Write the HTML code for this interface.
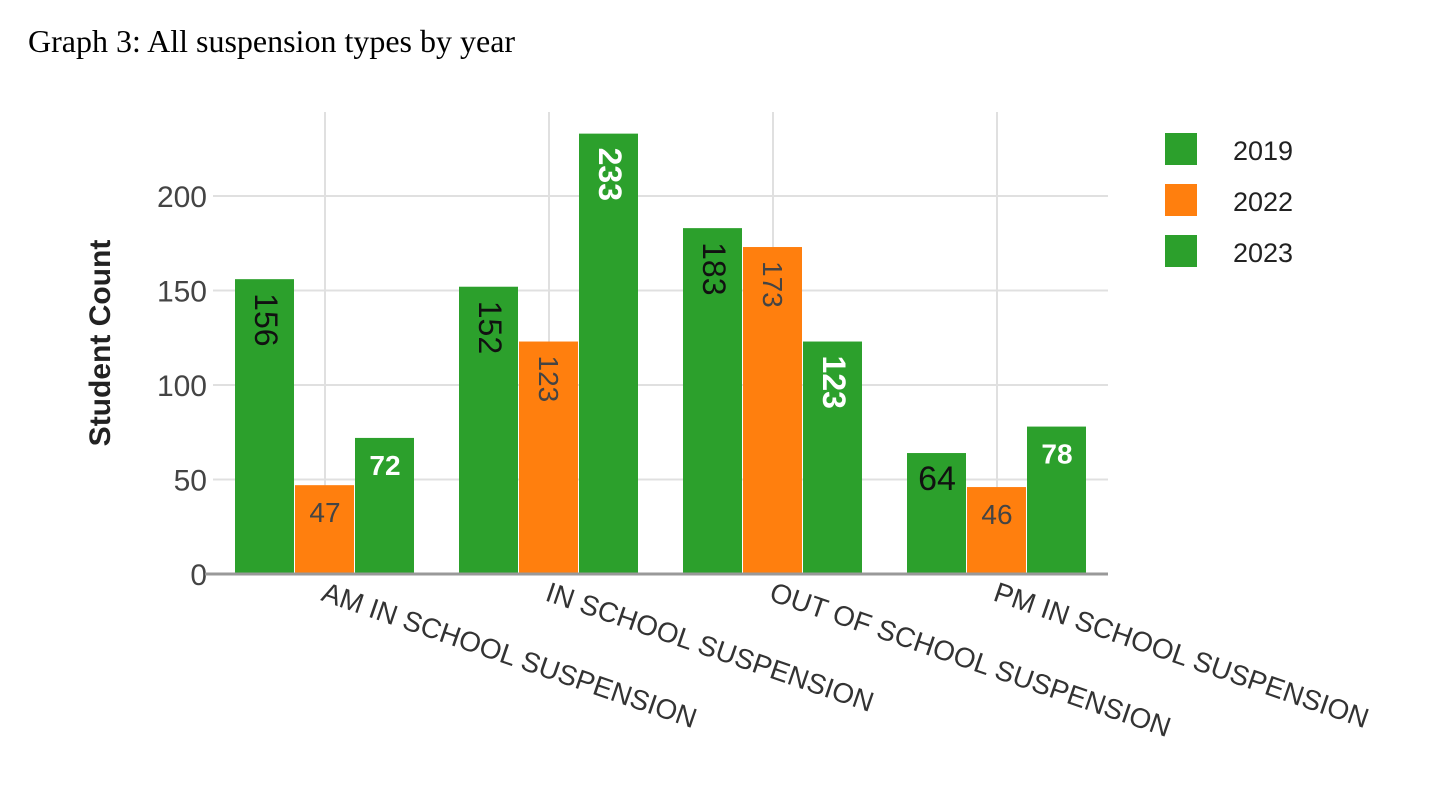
<!DOCTYPE html>
<html><head><meta charset="utf-8">
<style>
html,body{margin:0;padding:0;background:#fff;width:1440px;height:799px;overflow:hidden}
svg{display:block}
</style></head>
<body>
<svg id="chart" width="1440" height="799" xmlns="http://www.w3.org/2000/svg">
<text x="28" y="52" font-family="Liberation Serif, serif" font-size="32" fill="#000">Graph 3:  All suspension types by year</text>
<g id="grid"></g>
<g id="bars"></g>
<g id="labels"></g>
<g id="axes"></g>
<text transform="translate(110,343) rotate(-90)" text-anchor="middle" font-family="Liberation Sans, sans-serif" font-weight="bold" font-size="30" fill="#222">Student Count</text>
<g id="legend"></g>
</svg>
<script>
const categories = ["AM IN SCHOOL SUSPENSION","IN SCHOOL SUSPENSION","OUT OF SCHOOL SUSPENSION","PM IN SCHOOL SUSPENSION"];
const seriesNames = ["2019","2022","2023"];
const values2019 = [156,152,183,64];
const values2022 = [47,123,173,46];
const values2023 = [72,233,123,78];
const yTicks = [0,50,100,150,200];

const NS="http://www.w3.org/2000/svg";
const colors=["#2ca02c","#ff7f0e","#2ca02c"];
const series=[values2019,values2022,values2023];
const plotL=213, plotR=1108, plotT=112, y0=574, pxPerUnit=(574-196)/200;
const band=224, barW=60;
function y(v){return y0-v*pxPerUnit;}
function cx(i){return plotL+band*(i+0.5);}
function mk(tag,attrs,parent){const e=document.createElementNS(NS,tag);for(const k in attrs)e.setAttribute(k,attrs[k]);parent.appendChild(e);return e;}
const grid=document.getElementById('grid'),bars=document.getElementById('bars'),labels=document.getElementById('labels'),axes=document.getElementById('axes'),legend=document.getElementById('legend');
yTicks.forEach(t=>{
  if(t>0){const l=mk('line',{x1:plotL,x2:plotR,y1:y(t),y2:y(t),stroke:'#e0e0e0','stroke-width':2},grid);
  
  }
  const tx=mk('text',{x:207,y:y(t)+11,'text-anchor':'end','font-family':'Liberation Sans, sans-serif','font-size':30,fill:'#444'},axes);
  tx.textContent=t;
  
  
});
categories.forEach((c,i)=>{
  const l=mk('line',{x1:cx(i),x2:cx(i),y1:plotT,y2:y0,stroke:'#e0e0e0','stroke-width':2},grid);
  
  
  const tx=mk('text',{transform:`translate(${cx(i)-5},${y0+26}) rotate(19)`,'font-family':'Liberation Sans, sans-serif','font-size':28,fill:'#333'},axes);
  tx.textContent=c;
  
  
});
const horiz=[[false,false,false,true],[true,false,false,true],[true,false,false,true]];
const lblColor=[["#111","#111","#111","#111"],["#444","#444","#444","#444"],["#fff","#fff","#fff","#fff"]];
series.forEach((vals,s)=>{
  vals.forEach((v,i)=>{
    const x=cx(i)-90+s*barW;
    const r=mk('rect',{x:x,y:y(v),width:barW-1,height:y0-y(v),fill:colors[s]},bars);
    
    
    let t;
    if(horiz[s][i]){
      t=mk('text',{x:x+barW/2,y:y(v)+37,'text-anchor':'middle','font-family':'Liberation Sans, sans-serif','font-size':(s===0?34:28),'font-weight':(s===2?'bold':'normal'),fill:lblColor[s][i]},labels);
    }else{
      t=mk('text',{transform:`translate(${x+barW/2-10},${y(v)+14}) rotate(90)`,'font-family':'Liberation Sans, sans-serif','font-size':(s===1?28:32),'font-weight':(s===2?'bold':'normal'),fill:lblColor[s][i]},labels);
    }
    t.textContent=v;
    
    
  });
});
const ax=mk('line',{x1:plotL-8,x2:plotR,y1:y0,y2:y0,stroke:'#999','stroke-width':3},axes);


seriesNames.forEach((n,s)=>{
  const r=mk('rect',{x:1165,y:133+s*51,width:32,height:32,fill:colors[s]},legend);
  
  
  const t=mk('text',{x:1233,y:160+s*51,'font-family':'Liberation Sans, sans-serif','font-size':27,fill:'#222'},legend);
  t.textContent=n;
  
  
});
</script>
</body></html>
